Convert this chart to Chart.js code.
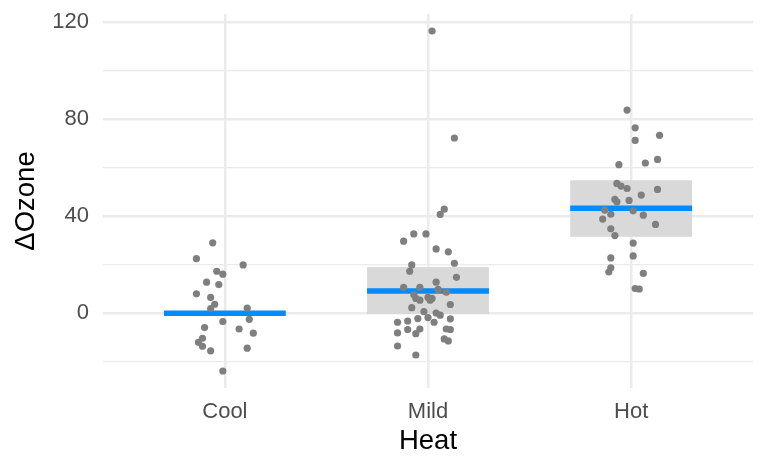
<!DOCTYPE html>
<html>
<head>
<meta charset="utf-8">
<script src="https://cdn.jsdelivr.net/npm/chart.js@4.4.1/dist/chart.umd.min.js"></script>
<style>
html,body{margin:0;padding:0;background:#fff}
#caixa{width:768px;height:474px}
</style>
</head>
<body>
<div id="caixa"><canvas id="grafico"></canvas></div>
<script>

// categorias do eixo x (posicao 1,2,3)
const categorias=["Cool","Mild","Hot"]

// pontos com jitter
const coolX=[0.94,0.86,1.09,0.96,0.99,0.91,0.97,0.86,0.93,0.95,0.93,1.11,1.12,0.99,0.90,1.07,1.14,0.89,0.87,0.89,0.93,1.11,0.99]
const coolY=[29.0,22.5,19.9,17.3,16.1,12.8,11.8,8.0,6.5,3.7,1.9,2.1,-2.5,-3.4,-5.9,-6.5,-8.2,-10.3,-12.0,-13.6,-15.5,-14.4,-23.8]

const mildX=[2.08,2.06,1.93,1.99,1.88,2.04,2.10,2.13,1.92,1.91,2.14,2.04,1.88,1.96,2.05,2.09,1.93,1.94,2.00,2.02,1.96,2.01,2.11,1.92,1.98,2.04,2.06,2.00,1.95,2.11,2.03,1.85,1.90,1.90,1.96,1.85,1.94,2.09,2.11,2.08,2.10,1.85,1.94,2.02,2.13]
const mildY=[42.9,40.7,32.7,32.7,29.7,26.5,25.3,20.6,19.9,17.3,14.8,12.8,10.7,10.7,9.8,8.7,7.7,6.1,6.5,6.1,5.4,5.4,3.6,2.3,0.7,0.1,-0.8,-1.8,-2.2,-2.3,-3.7,-3.7,-3.2,-6.7,-6.5,-8.1,-8.4,-6.5,-6.7,-10.6,-11.4,-13.5,-17.2,116.3,72.2]

const hotX=[2.98,3.02,3.14,3.02,3.13,3.07,2.94,2.93,2.95,2.98,3.13,3.05,2.92,2.99,2.93,2.87,2.90,3.01,3.06,2.86,3.12,2.90,2.92,3.01,3.01,2.90,2.90,2.89,3.06,3.02,3.04]
const hotY=[83.7,76.4,73.3,71.2,63.4,61.9,61.2,53.5,52.4,51.4,51.0,48.7,46.9,46.5,45.9,42.5,40.8,42.2,40.4,38.8,36.6,34.8,32.0,28.9,23.6,22.8,18.7,17.0,16.4,10.2,10.0]

// media e faixa (cinza) por categoria
const medias=[0,9.2,43.3]
const faixaMin=[null,-0.3,31.5]
const faixaMax=[null,19.0,54.8]

const ticksY=[-20,0,20,40,60,80,100,120]

const meiaLargura=0.3

function pontos(xs,ys){
return xs.map((x,i)=>({x:x,y:ys[i]}))
}

function linhaMedia(i){
return {
type:"scatter",
data:[{x:i+1-meiaLargura,y:medias[i]},{x:i+1+meiaLargura,y:medias[i]}],
showLine:true,
borderColor:"#008CFF",
borderWidth:5.5,
pointRadius:0,
borderCapStyle:"butt"
}
}

function dadosPontos(xs,ys){
return {
data:pontos(xs,ys),
backgroundColor:"#7F7F7F",
borderWidth:0,
pointRadius:3.6
}
}

const faixas={
id:"faixas",
beforeDatasetsDraw(chart){
const ctx=chart.ctx
const sx=chart.scales.x
const sy=chart.scales.y
ctx.save()
ctx.fillStyle="#D9D9D9"
categorias.forEach((c,i)=>{
if(faixaMin[i]===null) return
let x0=sx.getPixelForValue(i+1-meiaLargura)
let x1=sx.getPixelForValue(i+1+meiaLargura)
let y0=sy.getPixelForValue(faixaMax[i])
let y1=sy.getPixelForValue(faixaMin[i])
ctx.fillRect(x0,y0,x1-x0,y1-y0)
})
ctx.restore()
}
}

Chart.defaults.font.family="'Liberation Sans', Arial, sans-serif"

new Chart(document.getElementById("grafico"),{

type:"scatter",

data:{
datasets:[
dadosPontos(coolX,coolY),
dadosPontos(mildX,mildY),
dadosPontos(hotX,hotY),
linhaMedia(0),
linhaMedia(1),
linhaMedia(2)
]
},

options:{
responsive:true,
maintainAspectRatio:false,
animation:false,
devicePixelRatio:1,
layout:{padding:{top:14,right:15,left:0,bottom:0}},
plugins:{legend:{display:false},tooltip:{enabled:false}},
scales:{
x:{
type:"linear",
min:0.4,
max:3.6,
afterBuildTicks:s=>{s.ticks=categorias.map((c,i)=>({value:i+1}))},
afterFit:s=>{s.height=86},
ticks:{
callback:v=>categorias[v-1],
color:"#4D4D4D",
font:{size:22},
padding:11,
maxRotation:0
},
grid:{color:"#EBEBEB",lineWidth:2.5,drawTicks:false},
border:{display:false},
title:{display:true,text:"Heat",color:"#000",font:{size:27.5},padding:{top:0,bottom:16}}
},
y:{
min:-30.8,
max:123.3,
afterBuildTicks:s=>{s.ticks=ticksY.map(v=>({value:v}))},
afterFit:s=>{s.width=103;s.paddingTop=0;s.paddingBottom=0},
ticks:{
callback:v=>v%40===0?v:"",
color:"#4D4D4D",
font:{size:22},
padding:14
},
grid:{
color:"#EBEBEB",
lineWidth:c=>c.tick&&c.tick.value%40===0?2.5:1.3,
drawTicks:false
},
border:{display:false},
title:{display:true,text:"ΔOzone",color:"#000",font:{size:27.5},padding:{top:10,bottom:0}}
}
}
},

plugins:[faixas]

})

</script>
</body>
</html>
